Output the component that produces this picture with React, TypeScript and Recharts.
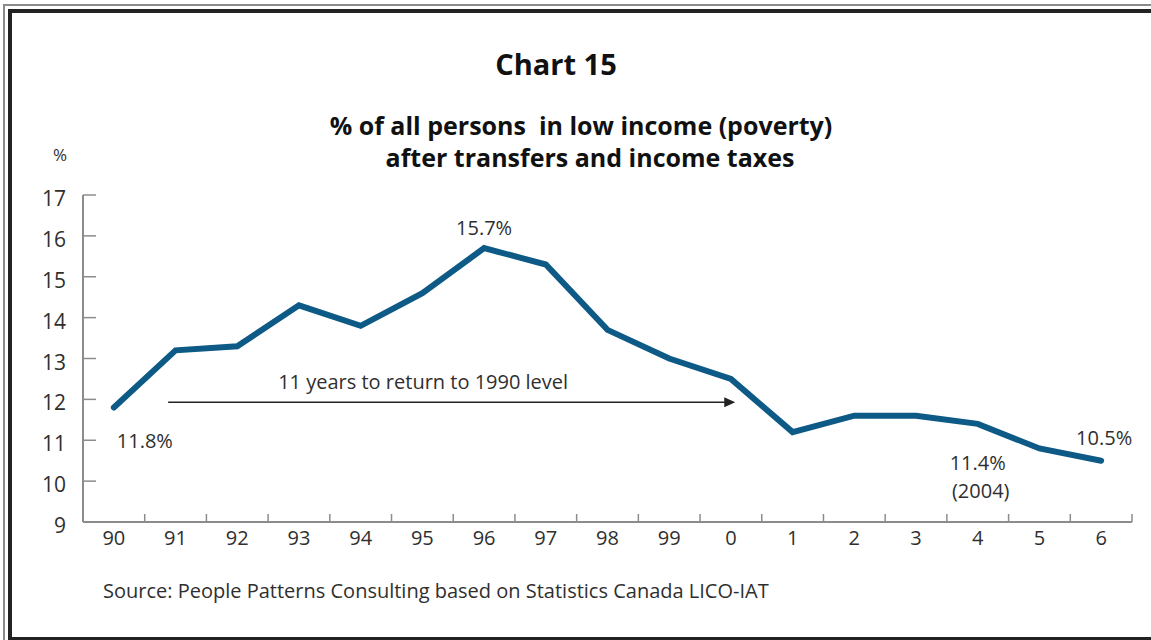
import React from 'react';
import { LineChart, Line, XAxis, YAxis, ReferenceLine, LabelList } from 'recharts';

// years shown on the axis (1990 .. 2006)
const yearLabels = ['90', '91', '92', '93', '94', '95', '96', '97', '98', '99', '0', '1', '2', '3', '4', '5', '6'];
// % of persons in low income after transfers and taxes
const lowIncomePct = [11.8, 13.2, 13.3, 14.3, 13.8, 14.6, 15.7, 15.3, 13.7, 13.0, 12.5, 11.2, 11.6, 11.6, 11.4, 10.8, 10.5];
const pointNotes = ['11.8%', '', '', '', '', '', '15.7%', '', '', '', '', '', '', '', '11.4%', '', '10.5%'];
const yTicks = [9, 10, 11, 12, 13, 14, 15, 16, 17];

const W = 1151;
const H = 640;
const Y_AXIS_W = 83;
const X_AXIS_H = 30;
const margin = { top: 195, right: 19, bottom: 118 - X_AXIS_H, left: 0 };
const band = (W - Y_AXIS_W - margin.right) / yearLabels.length;

const LINE_BLUE = '#0d5a86';
const AXIS_GRAY = '#8c8c8c';
const TEXT = '#2f2f2f';
const FONT = '"Open Sans", sans-serif';

const chartData = yearLabels.map((label, i) => ({ idx: i, label, value: lowIncomePct[i], note: pointNotes[i] }));

const XTick = (props: any) => {
  const { x, y, payload } = props;
  return (
    <g>
      <line x1={x + band / 2} y1={y} x2={x + band / 2} y2={y - 8} stroke={AXIS_GRAY} strokeWidth={1.5} />
      <text x={x} y={y + 23} textAnchor="middle" fontFamily={FONT} fontSize={20} fill={TEXT}>
        {yearLabels[payload.value]}
      </text>
    </g>
  );
};

const YTick = (props: any) => {
  const { x, y, payload } = props;
  return (
    <g>
      {payload.value !== 9 && (
        <line x1={x + 17} y1={y} x2={x + 30} y2={y} stroke={AXIS_GRAY} strokeWidth={1.5} />
      )}
      <text x={x} y={y + 11} textAnchor="end" fontFamily={FONT} fontSize={21} fill={TEXT}>
        {payload.value}
      </text>
    </g>
  );
};

const noteOffsets: Record<string, [number, number]> = {
  '11.8%': [31, 40],
  '15.7%': [0, -13],
  '10.5%': [3, -16],
  '11.4%': [0, 46],
};

const PointNote = (props: any) => {
  const { x, y, value } = props;
  if (!value) return null;
  const [dx, dy] = noteOffsets[value] || [0, 0];
  return (
    <g>
      <text x={x + dx} y={y + dy} textAnchor="middle" fontFamily={FONT} fontSize={20} fill={TEXT}>
        {value}
      </text>
      {value === '11.4%' && (
        <text x={x + dx + 3} y={y + dy + 28} textAnchor="middle" fontFamily={FONT} fontSize={20} fill={TEXT}>
          (2004)
        </text>
      )}
    </g>
  );
};

const ArrowShape = (props: any) => {
  const { x1, y1, x2, y2 } = props;
  if (x1 == null) return null;
  return (
    <g>
      <line x1={x1} y1={y1} x2={x2 - 8} y2={y2} stroke="#222" strokeWidth={1.6} />
      <polygon points={`${x2},${y2} ${x2 - 11},${y2 - 5} ${x2 - 11},${y2 + 5}`} fill="#222" />
      <text x={x1 + 255} y={y1 - 13} textAnchor="middle" fontFamily={FONT} fontSize={20} fill={TEXT}>
        11 years to return to 1990 level
      </text>
    </g>
  );
};

export default function App() {
  return (
    <div style={{ position: 'absolute', left: 0, top: 0, width: W, height: H, background: '#fff' }}>
      <div style={{ position: 'absolute', left: 0, top: 0 }}>
        <LineChart width={W} height={H} data={chartData} margin={margin}>
          <XAxis
            type="number"
            dataKey="idx"
            domain={[-0.5, 16.5]}
            ticks={chartData.map((d) => d.idx)}
            interval={0}
            height={X_AXIS_H}
            tickSize={0}
            tickMargin={0}
            tickLine={false}
            axisLine={{ stroke: AXIS_GRAY, strokeWidth: 2 }}
            tick={<XTick />}
          />
          <YAxis
            type="number"
            domain={[9, 17]}
            ticks={yTicks}
            interval={0}
            tickSize={0}
            tickMargin={17}
            tickLine={false}
            axisLine={{ stroke: AXIS_GRAY, strokeWidth: 2 }}
            tick={<YTick />}
            width={Y_AXIS_W}
          />
          <ReferenceLine
            segment={[{ x: 0.88, y: 11.93 }, { x: 10.07, y: 11.93 }]}
            shape={<ArrowShape />}
            ifOverflow="visible"
          />
          <Line
            type="linear"
            dataKey="value"
            stroke={LINE_BLUE}
            strokeWidth={6}
            strokeLinecap="round"
            strokeLinejoin="miter"
            dot={false}
            isAnimationActive={false}
          >
            <LabelList dataKey="note" content={<PointNote />} />
          </Line>
        </LineChart>
      </div>
      <svg width={W} height={H} style={{ position: 'absolute', left: 0, top: 0, pointerEvents: 'none' }}>
        {/* frame */}
        <rect x={3} y={4} width={W} height={2} fill="#8a8a8a" />
        <rect x={3} y={4} width={2} height={H} fill="#8a8a8a" />
        <rect x={8} y={9} width={W} height={4} fill="#222" />
        <rect x={8} y={9} width={4} height={H} fill="#222" />
        <rect x={8} y={637} width={W} height={3} fill="#222" />
        <text x={556} y={75} textAnchor="middle" fontFamily={FONT} fontWeight="bold" fontSize={29} fill="#111">
          Chart 15
        </text>
        <text x={581} y={135} textAnchor="middle" fontFamily={FONT} fontWeight="bold" fontSize={25} fill="#111" style={{ whiteSpace: 'pre' }}>
          % of all persons  in low income (poverty)
        </text>
        <text x={590} y={167} textAnchor="middle" fontFamily={FONT} fontWeight="bold" fontSize={25} fill="#111">
          after transfers and income taxes
        </text>
        <text x={60} y={161} textAnchor="middle" fontFamily={FONT} fontSize={17} fill={TEXT}>
          %
        </text>
        <text x={103} y={598} fontFamily={FONT} fontSize={20} fill={TEXT}>
          Source: People Patterns Consulting based on Statistics Canada LICO-IAT
        </text>
      </svg>
    </div>
  );
}
